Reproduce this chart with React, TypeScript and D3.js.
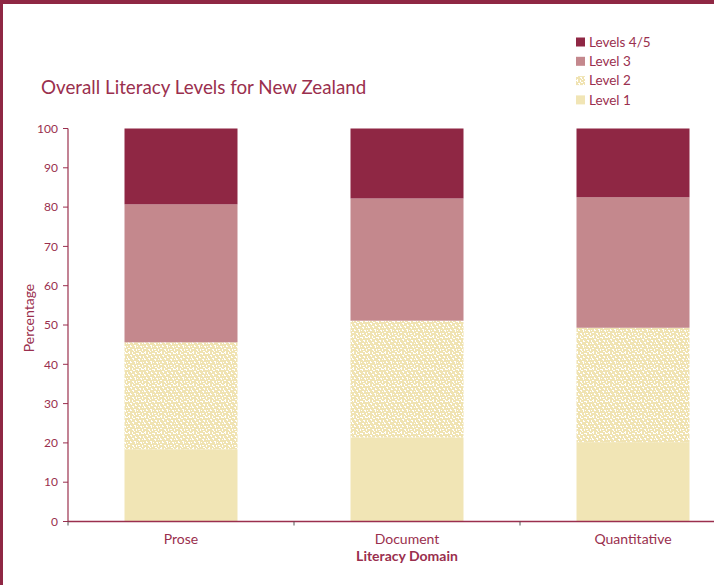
import React from "react";
import * as d3 from "d3";

const categories = ["Prose", "Document", "Quantitative"];
const seriesNames = ["Level 1", "Level 2", "Level 3", "Levels 4/5"];
const level1 = [18.4, 21.4, 20.2];
const level2 = [27.2, 29.7, 29.1];
const level3 = [35.1, 31.1, 33.2];
const level45 = [19.3, 17.8, 17.5];
const yTicks = [0, 10, 20, 30, 40, 50, 60, 70, 80, 90, 100];

const W = 714;
const H = 585;
const M = { left: 68, top: 128.5, bottom: 521.5 };
const C_DARK = "#8f2744";
const C_TEXT = "#9a2f4e";
const colors = ["#f1e5b5", "url(#speckle)", "#c4888d", C_DARK];
const FONT = "Lato, 'Open Sans', sans-serif";

// speckle texture specks (style only)
const specks: [number, number, number, number][] = [
  [0, 0, 2, 1], [1, 1, 1, 1], [4, 0, 1, 2], [5, 2, 2, 1], [8, 1, 3, 1],
  [10, 2, 1, 1], [13, 0, 1, 2], [14, 1, 2, 1], [2, 3, 2, 1], [3, 4, 1, 1],
  [7, 4, 1, 2], [8, 5, 1, 1], [11, 4, 2, 1], [12, 5, 1, 1], [15, 4, 1, 2],
  [0, 6, 1, 2], [1, 7, 1, 1], [4, 6, 2, 1], [5, 7, 1, 1], [10, 7, 2, 1],
  [11, 8, 1, 1], [14, 7, 1, 1], [2, 9, 1, 2], [3, 10, 1, 1], [6, 9, 2, 1],
  [7, 10, 1, 2], [9, 10, 1, 1], [12, 10, 2, 1], [13, 11, 1, 1], [15, 10, 1, 1],
  [0, 12, 2, 1], [4, 13, 2, 1], [5, 14, 1, 1], [8, 13, 1, 2], [10, 13, 2, 1],
  [14, 13, 1, 2], [1, 15, 1, 1], [11, 15, 2, 1], [6, 15, 1, 1],
];

export default function App() {
  const rows = categories.map((c, i) => ({
    cat: c,
    "Level 1": level1[i],
    "Level 2": level2[i],
    "Level 3": level3[i],
    "Levels 4/5": level45[i],
  }));
  const stack = d3.stack<any>().keys(seriesNames)(rows);
  const x = d3
    .scaleBand<string>()
    .domain(categories)
    .range([M.left, M.left + 3 * 226])
    .paddingInner(0.5)
    .paddingOuter(0.25);
  const y = d3.scaleLinear().domain([0, 100]).range([M.bottom, M.top]);
  const step = x.step();
  const bounds = d3.range(categories.length + 1).map((i) => M.left + i * step);

  const legendItems = [...seriesNames].reverse();

  return (
    <svg
      width={W}
      height={H}
      style={{ position: "absolute", left: 0, top: 0, background: "#fff" }}
      fontFamily={FONT}
    >
      <defs>
        <pattern id="speckle" width={16} height={16} patternUnits="userSpaceOnUse">
          <rect width={16} height={16} fill="#f0e3b2" />
          {specks.map((s, i) => (
            <rect key={i} x={s[0]} y={s[1]} width={s[2]} height={s[3]} fill="#ffffff" />
          ))}
        </pattern>
      </defs>
      <rect x={0} y={0} width={W} height={H} fill="#fff" />
      {/* frame */}
      <rect x={0} y={0} width={W} height={4} fill={C_DARK} />
      <rect x={0} y={0} width={3} height={H} fill={C_DARK} />

      <text x={41} y={94} fontSize={18.8} fill={C_TEXT}>
        Overall Literacy Levels for New Zealand
      </text>

      {/* bars */}
      {stack.map((s, si) => (
        <g key={s.key}>
          {s.map((d, i) => (
            <rect
              key={i}
              x={x(categories[i])}
              width={x.bandwidth()}
              y={y(d[1])}
              height={y(d[0]) - y(d[1])}
              fill={colors[si]}
            />
          ))}
        </g>
      ))}

      {/* y axis */}
      <line x1={M.left} x2={M.left} y1={y(100)} y2={y(0)} stroke={C_TEXT} strokeWidth={1.2} />
      {yTicks.map((t) => (
        <g key={t}>
          <line x1={M.left - 5} x2={M.left} y1={y(t)} y2={y(t)} stroke={C_TEXT} strokeWidth={1} />
          <text x={M.left - 10} y={y(t)} dy="0.35em" textAnchor="end" fontSize={12} fill={C_TEXT}>
            {t}
          </text>
        </g>
      ))}
      <text
        transform={`translate(34,318) rotate(-90)`}
        textAnchor="middle"
        fontSize={14}
        fill={C_TEXT}
      >
        Percentage
      </text>

      {/* x axis */}
      <line x1={M.left} x2={bounds[bounds.length - 1]} y1={y(0)} y2={y(0)} stroke={C_TEXT} strokeWidth={1.5} />
      {bounds.map((b, i) => (
        <line key={i} x1={b} x2={b} y1={y(0)} y2={y(0) + 4} stroke="#555" strokeWidth={1} />
      ))}
      {categories.map((c) => (
        <text
          key={c}
          x={(x(c) as number) + x.bandwidth() / 2}
          y={544}
          textAnchor="middle"
          fontSize={14}
          fill={C_TEXT}
        >
          {c}
        </text>
      ))}
      <text
        x={(bounds[0] + bounds[bounds.length - 1]) / 2}
        y={561}
        textAnchor="middle"
        fontSize={14}
        fontWeight="bold"
        fill={C_TEXT}
      >
        Literacy Domain
      </text>

      {/* legend */}
      {legendItems.map((name, i) => {
        const si = seriesNames.indexOf(name);
        const cy = 42 + i * 19.3;
        return (
          <g key={name}>
            <rect x={576} y={cy - 4.5} width={9} height={9} fill={colors[si]} />
            <text x={589} y={cy} dy="0.35em" fontSize={13.5} fill={C_TEXT}>
              {name}
            </text>
          </g>
        );
      })}
    </svg>
  );
}
